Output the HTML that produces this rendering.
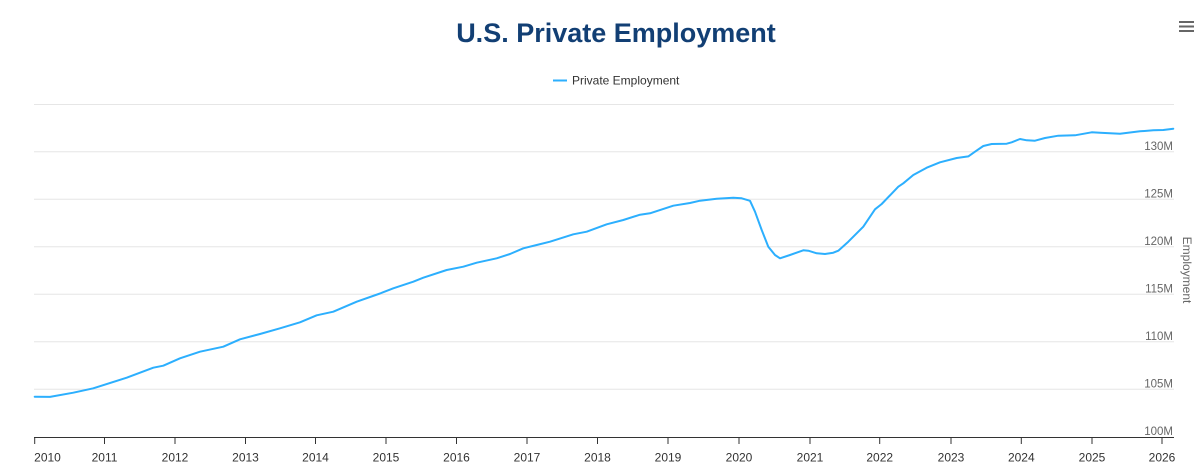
<!DOCTYPE html>
<html>
<head>
<meta charset="utf-8">
<style>
  html, body { margin:0; padding:0; background:#fff; }
  body { width:1200px; height:469px; overflow:hidden; }
  svg { display:block; font-family:"Liberation Sans", "DejaVu Sans", sans-serif; }
</style>
</head>
<body>
<svg width="1200" height="469" viewBox="0 0 1200 469" xmlns="http://www.w3.org/2000/svg">
  <rect width="1200" height="469" fill="#ffffff"/>

  <!-- Title -->
  <text x="616" y="42" text-anchor="middle" font-size="27" font-weight="bold" fill="#123f74">U.S. Private Employment</text>

  <!-- Menu icon -->
  <g fill="#666666">
    <rect x="1179" y="21" width="15" height="2"/>
    <rect x="1179" y="25.5" width="15" height="2"/>
    <rect x="1179" y="30" width="15" height="2"/>
  </g>

  <!-- Legend -->
  <line x1="553" y1="80.5" x2="567" y2="80.5" stroke="#2caffe" stroke-width="2"/>
  <text x="572" y="84.5" font-size="12" fill="#333333">Private Employment</text>

  <!-- Grid lines -->
  <g stroke="#e6e6e6" stroke-width="1">
    <line x1="34" y1="104.5" x2="1174" y2="104.5"/>
    <line x1="34" y1="151.8" x2="1174" y2="151.8"/>
    <line x1="34" y1="199.3" x2="1174" y2="199.3"/>
    <line x1="34" y1="246.8" x2="1174" y2="246.8"/>
    <line x1="34" y1="294.3" x2="1174" y2="294.3"/>
    <line x1="34" y1="341.8" x2="1174" y2="341.8"/>
    <line x1="34" y1="389.3" x2="1174" y2="389.3"/>
  </g>

  <!-- Y labels -->
  <g font-size="11.5" fill="#666666" text-anchor="end">
    <text x="1173" y="149.8">130M</text>
    <text x="1173" y="197.3">125M</text>
    <text x="1173" y="244.8">120M</text>
    <text x="1173" y="292.3">115M</text>
    <text x="1173" y="339.8">110M</text>
    <text x="1173" y="387.3">105M</text>
    <text x="1173" y="434.8">100M</text>
  </g>

  <!-- Y axis title -->
  <text x="0" y="0" font-size="12" fill="#666666" text-anchor="middle" transform="translate(1183,270) rotate(90)">Employment</text>

  <!-- X axis -->
  <line x1="34" y1="437.5" x2="1174" y2="437.5" stroke="#333333" stroke-width="1"/>
  <g stroke="#333333" stroke-width="1">
    <line x1="34.7" y1="437" x2="34.7" y2="444"/>
    <line x1="104.5" y1="437" x2="104.5" y2="444"/>
    <line x1="175" y1="437" x2="175" y2="444"/>
    <line x1="245.5" y1="437" x2="245.5" y2="444"/>
    <line x1="315.5" y1="437" x2="315.5" y2="444"/>
    <line x1="386" y1="437" x2="386" y2="444"/>
    <line x1="456.5" y1="437" x2="456.5" y2="444"/>
    <line x1="527" y1="437" x2="527" y2="444"/>
    <line x1="597.5" y1="437" x2="597.5" y2="444"/>
    <line x1="668" y1="437" x2="668" y2="444"/>
    <line x1="739" y1="437" x2="739" y2="444"/>
    <line x1="810" y1="437" x2="810" y2="444"/>
    <line x1="879.7" y1="437" x2="879.7" y2="444"/>
    <line x1="951" y1="437" x2="951" y2="444"/>
    <line x1="1021.3" y1="437" x2="1021.3" y2="444"/>
    <line x1="1092" y1="437" x2="1092" y2="444"/>
    <line x1="1162" y1="437" x2="1162" y2="444"/>
  </g>
  <g font-size="12" fill="#333333" text-anchor="middle">
    <text x="47.5" y="461.5">2010</text>
    <text x="104.5" y="461.5">2011</text>
    <text x="175" y="461.5">2012</text>
    <text x="245.5" y="461.5">2013</text>
    <text x="315.5" y="461.5">2014</text>
    <text x="386" y="461.5">2015</text>
    <text x="456.5" y="461.5">2016</text>
    <text x="527" y="461.5">2017</text>
    <text x="597.5" y="461.5">2018</text>
    <text x="668" y="461.5">2019</text>
    <text x="739" y="461.5">2020</text>
    <text x="810" y="461.5">2021</text>
    <text x="879.7" y="461.5">2022</text>
    <text x="951" y="461.5">2023</text>
    <text x="1021.3" y="461.5">2024</text>
    <text x="1092" y="461.5">2025</text>
    <text x="1162" y="461.5">2026</text>
  </g>

  <!-- Series -->
  <polyline fill="none" stroke="#2caffe" stroke-width="2" stroke-linejoin="round" stroke-linecap="round"
    points="34.7,396.7 50,396.9 73.3,392.7 93.3,388.3 126.7,377.7 153.3,367.7 163.3,365.7 180,358.3 200,351.7 223.3,346.7 240,339.3 260,334 280,328.3 300,322.3 316.7,315.3 333.3,311.7 356.7,301.7 380,293.5 393.3,288.3 413.3,281.7 423.3,277.7 446.7,270 463.3,266.7 476.7,262.7 496.7,258.3 510,254 523.3,248.3 536.7,245 550,241.7 573.3,234.3 586.7,231.7 606.7,224.3 623.3,220 640,214.7 650,213.3 673.3,205.7 690,203 700,200.7 716.7,198.7 733.3,197.7 741.7,198.3 750,200.8 755,211.7 761.7,230 768.3,246.7 775,255 780,258.3 790,255 803.3,250.3 808.3,250.7 816.7,253.3 825,254 833.3,252.7 838.3,250.7 848.3,241.7 863.3,226.7 875,209.3 881.7,204 898.3,186.7 903.3,183.3 913.3,175 926.7,167.7 940,162.3 956.7,158 968.3,156.4 975,151.7 983.3,146 991.7,144 1006.7,143.7 1011.7,142.3 1020,139 1026.7,140.3 1035,140.7 1045,138 1058.3,135.7 1075,135.3 1091.7,132.3 1100,132.7 1120,133.7 1140,131.3 1153.3,130.3 1163.3,130 1173.3,128.7"/>
</svg>
</body>
</html>
